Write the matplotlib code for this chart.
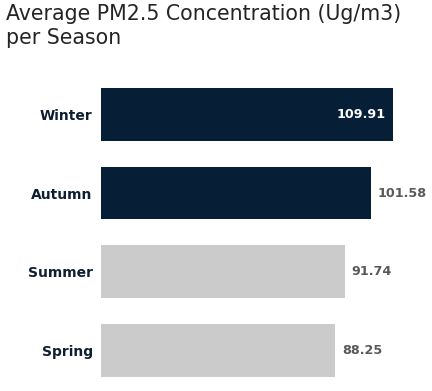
import matplotlib
matplotlib.use("Agg")
import matplotlib.pyplot as plt

# data
seasons = ["Winter", "Autumn", "Summer", "Spring"]
pm25 = [109.91, 101.58, 91.74, 88.25]
highlight = [True, True, False, False]

NAVY = "#061f37"
LIGHT = "#cbcbcb"

fig = plt.figure(figsize=(4.32, 3.91), dpi=100)
ax = fig.add_axes([101 / 432, 0.003, 331 / 432, 0.805])

ypos = list(range(len(seasons)))
colors = [NAVY if h else LIGHT for h in highlight]
ax.barh(ypos, pm25, height=0.67, color=colors)

ax.set_xlim(0, 124.6)
ax.set_ylim(3.5, -0.5)
ax.set_yticks(ypos)
ax.set_yticklabels(seasons, fontsize=10, fontweight="bold", color="#0f1e30")
ax.tick_params(axis="y", length=0, pad=6)
ax.set_xticks([])
for s in ax.spines.values():
    s.set_visible(False)

# value labels: first one inside the bar, the rest outside
for i, v in enumerate(pm25):
    if i == 0:
        ax.annotate(f"{v:.2f}", xy=(v, i), xytext=(-5, 0), textcoords="offset points",
                    ha="right", va="center", fontsize=9.2, fontweight="bold", color="white")
    else:
        ax.annotate(f"{v:.2f}", xy=(v, i), xytext=(5, 0), textcoords="offset points",
                    ha="left", va="center", fontsize=9.2, fontweight="bold", color="#595959")

fig.text(6 / 432, 1 - 4 / 391, "Average PM2.5 Concentration (Ug/m3)\nper Season",
         ha="left", va="top", fontsize=14.8, color="#252423", linespacing=1.25)

fig.savefig("out.png", dpi=100)
